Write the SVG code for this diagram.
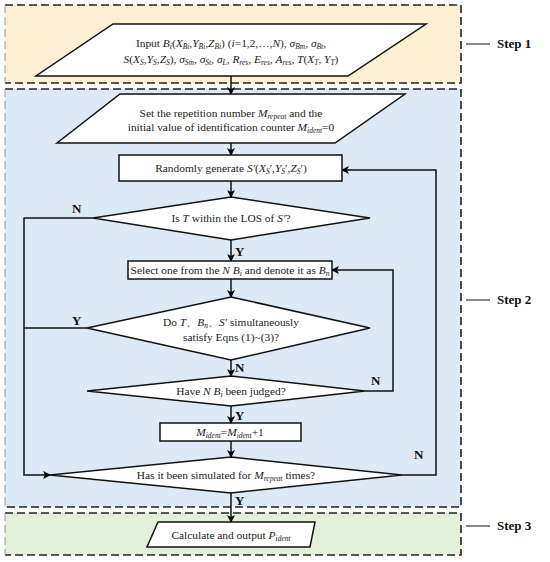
<svg xmlns="http://www.w3.org/2000/svg" width="550" height="562" viewBox="0 0 550 562">
<defs>
<marker id="ah" markerWidth="8" markerHeight="8" refX="7" refY="4" orient="auto" markerUnits="userSpaceOnUse">
<path d="M0,0 L8,4 L0,8 L2,4 Z" fill="#000"/>
</marker>
<style>
.t{font-family:"Liberation Serif","Times New Roman",serif;font-size:11.4px;fill:#222;text-anchor:middle}
.i{font-style:italic}
.s{font-size:7.5px;font-style:italic}
.lab{font-family:"Liberation Serif","Times New Roman",serif;font-size:13px;font-weight:bold;fill:#111}
.step{font-family:"Liberation Serif","Times New Roman",serif;font-size:13px;font-weight:bold;fill:#111}
.shape{fill:#fff;stroke:#111;stroke-width:1.5}
.con{fill:none;stroke:#111;stroke-width:1.5}
.dash{fill:none;stroke:#222;stroke-width:1.6;stroke-dasharray:8,4}
.dashl{fill:none;stroke:#aaa;stroke-width:1.2;stroke-dasharray:8,4}
</style>
</defs>
<rect width="550" height="562" fill="#fff"/>
<g id="step1-region">
<rect x="5" y="5" width="456" height="78" fill="#fcefd3"/>
<path class="dash" d="M5,5 H461 V83 H5"/>
<path class="dashl" d="M5,5 V83"/>
<line x1="466" y1="44" x2="490" y2="44" stroke="#111" stroke-width="1"/>
<text class="step" x="497" y="48">Step 1</text>
</g>
<g id="step2-region">
<rect x="5" y="89" width="456" height="418" fill="#dde9f5"/>
<path class="dash" d="M5,89 H461 V507 H5"/>
<path class="dashl" d="M5,89 V507"/>
<line x1="466" y1="300" x2="490" y2="300" stroke="#111" stroke-width="1"/>
<text class="step" x="497" y="304">Step 2</text>
</g>
<g id="step3-region">
<rect x="5" y="513" width="456" height="42" fill="#e2efda"/>
<path class="dash" d="M5,513 H461 V555 H5"/>
<path class="dashl" d="M5,513 V555"/>
<line x1="466" y1="526" x2="490" y2="526" stroke="#111" stroke-width="1"/>
<text class="step" x="497" y="530">Step 3</text>
</g>
<g id="connectors">
<line class="con" x1="231" y1="76" x2="231" y2="94" marker-end="url(#ah)"/>
<line class="con" x1="231" y1="143" x2="231" y2="155" marker-end="url(#ah)"/>
<line class="con" x1="231" y1="181" x2="231" y2="197" marker-end="url(#ah)"/>
<line class="con" x1="231" y1="240" x2="231" y2="261" marker-end="url(#ah)"/>
<line class="con" x1="231" y1="278" x2="231" y2="297" marker-end="url(#ah)"/>
<line class="con" x1="231" y1="360" x2="231" y2="376" marker-end="url(#ah)"/>
<line class="con" x1="231" y1="406" x2="231" y2="423" marker-end="url(#ah)"/>
<line class="con" x1="231" y1="441" x2="231" y2="457" marker-end="url(#ah)"/>
<line class="con" x1="231" y1="493" x2="231" y2="522" marker-end="url(#ah)"/>
<polyline class="con" points="93,218 24,218 24,475 50,475" marker-end="url(#ah)"/>
<polyline class="con" points="87,328 24,328"/>
<polyline class="con" points="365,391 393,391 393,270 332,270" marker-end="url(#ah)"/>
<polyline class="con" points="402,475 436,475 436,170 342,170" marker-end="url(#ah)"/>
<text class="lab" x="72" y="213">N</text>
<text class="lab" x="235" y="256">Y</text>
<text class="lab" x="72" y="325">Y</text>
<text class="lab" x="235" y="372">N</text>
<text class="lab" x="371" y="385">N</text>
<text class="lab" x="235" y="420">Y</text>
<text class="lab" x="414" y="459">N</text>
<text class="lab" x="235" y="505">Y</text>
</g>
<g id="input">
<polygon class="shape" points="113,24 426,24 348,76 36,76"/>
<text class="t" x="231" y="47">Input <tspan class="i">B</tspan><tspan class="s" dy="2">i</tspan><tspan dy="-2">(</tspan><tspan class="i">X</tspan><tspan class="s" dy="2">Bi</tspan><tspan dy="-2">,</tspan><tspan class="i">Y</tspan><tspan class="s" dy="2">Bi</tspan><tspan dy="-2">,</tspan><tspan class="i">Z</tspan><tspan class="s" dy="2">Bi</tspan><tspan dy="-2">) (</tspan><tspan class="i">i</tspan>=1,2,…,<tspan class="i">N</tspan>), <tspan class="i">σ</tspan><tspan class="s" dy="2">Bm</tspan><tspan dy="-2">, </tspan><tspan class="i">σ</tspan><tspan class="s" dy="2">Bt</tspan><tspan dy="-2">,</tspan></text>
<text class="t" x="231" y="63"><tspan class="i">S</tspan>(<tspan class="i">X</tspan><tspan class="s" dy="2">S</tspan><tspan dy="-2">,</tspan><tspan class="i">Y</tspan><tspan class="s" dy="2">S</tspan><tspan dy="-2">,</tspan><tspan class="i">Z</tspan><tspan class="s" dy="2">S</tspan><tspan dy="-2">), </tspan><tspan class="i">σ</tspan><tspan class="s" dy="2">Sm</tspan><tspan dy="-2">, </tspan><tspan class="i">σ</tspan><tspan class="s" dy="2">St</tspan><tspan dy="-2">, </tspan><tspan class="i">σ</tspan><tspan class="s" dy="2">L</tspan><tspan dy="-2">, </tspan><tspan class="i">R</tspan><tspan class="s" dy="2">res</tspan><tspan dy="-2">, </tspan><tspan class="i">E</tspan><tspan class="s" dy="2">res</tspan><tspan dy="-2">, </tspan><tspan class="i">A</tspan><tspan class="s" dy="2">res</tspan><tspan dy="-2">, </tspan><tspan class="i">T</tspan>(<tspan class="i">X</tspan><tspan class="s" dy="2">T</tspan><tspan dy="-2">, </tspan><tspan class="i">Y</tspan><tspan class="s" dy="2">T</tspan><tspan dy="-2">)</tspan></text>
</g>
<g id="set-repetition">
<polygon class="shape" points="120,94 405,94 335,143 57,143"/>
<text class="t" x="231" y="117">Set the repetition number <tspan class="i">M</tspan><tspan class="s" dy="2">repeat</tspan><tspan dy="-2"> and the</tspan></text>
<text class="t" x="231" y="131">initial value of identification counter <tspan class="i">M</tspan><tspan class="s" dy="2">ident</tspan><tspan dy="-2">=0</tspan></text>
</g>
<g id="random-generate">
<rect class="shape" x="119" y="155" width="223" height="26"/>
<text class="t" x="231" y="172">Randomly generate <tspan class="i">S′</tspan>(<tspan class="i">X</tspan><tspan class="s" dy="2">S</tspan><tspan dy="-2">′,</tspan><tspan class="i">Y</tspan><tspan class="s" dy="2">S</tspan><tspan dy="-2">′,</tspan><tspan class="i">Z</tspan><tspan class="s" dy="2">S</tspan><tspan dy="-2">′)</tspan></text>
</g>
<g id="los-check">
<polygon class="shape" points="231,197 370,218 231,240 93,218"/>
<text class="t" x="231" y="222">Is <tspan class="i">T</tspan> within the LOS of <tspan class="i">S′</tspan>?</text>
</g>
<g id="select-bn">
<rect class="shape" x="128" y="261" width="204" height="18"/>
<text class="t" x="230" y="274">Select one from the <tspan class="i">N B</tspan><tspan class="s" dy="2">i</tspan><tspan dy="-2"> and denote it as </tspan><tspan class="i">B</tspan><tspan class="s" dy="2">n</tspan></text>
</g>
<g id="eqns-check">
<polygon class="shape" points="231,297 370,328 231,360 87,328"/>
<text class="t" x="231" y="326">Do <tspan class="i">T</tspan>、<tspan class="i">B</tspan><tspan class="s" dy="2">n</tspan><tspan dy="-2">、</tspan><tspan class="i">S′</tspan> simultaneously</text>
<text class="t" x="231" y="341">satisfy Eqns (1)~(3)?</text>
</g>
<g id="judged-check">
<polygon class="shape" points="231,376 365,391 231,406 87,391"/>
<text class="t" x="231" y="395">Have <tspan class="i">N B</tspan><tspan class="s" dy="2">i</tspan><tspan dy="-2"> been judged?</tspan></text>
</g>
<g id="increment">
<rect class="shape" x="160" y="423" width="141" height="18"/>
<text class="t" x="230" y="436"><tspan class="i">M</tspan><tspan class="s" dy="2">ident</tspan><tspan dy="-2">=</tspan><tspan class="i">M</tspan><tspan class="s" dy="2">ident</tspan><tspan dy="-2">+1</tspan></text>
</g>
<g id="simulated-check">
<polygon class="shape" points="231,457 402,475 231,493 50,475"/>
<text class="t" x="226" y="479">Has it been simulated for <tspan class="i">M</tspan><tspan class="s" dy="2">repeat</tspan><tspan dy="-2"> times?</tspan></text>
</g>
<g id="output">
<polygon class="shape" points="158,522 315,522 310,547 147,547"/>
<text class="t" x="231" y="539">Calculate and output <tspan class="i">P</tspan><tspan class="s" dy="2">ident</tspan></text>
</g>
</svg>
